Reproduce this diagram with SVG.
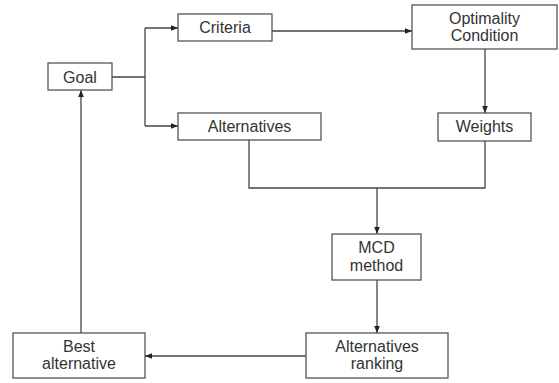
<svg xmlns="http://www.w3.org/2000/svg" width="559" height="383" viewBox="0 0 559 383">
<style>
.box{fill:#fff;stroke:#555;stroke-width:1.3}
.t{font-family:"Liberation Sans",Arial,sans-serif;font-size:16px;fill:#333;text-anchor:middle}
.c{fill:none;stroke:#444;stroke-width:1.3}
</style>
<defs>
<marker id="a" viewBox="0 0 10 10" refX="10" refY="5" markerWidth="7" markerHeight="7" markerUnits="userSpaceOnUse" orient="auto">
<path d="M0,1 L10,5 L0,9 z" fill="#222"/>
</marker>
</defs>
<rect width="559" height="383" fill="#fff"/>
<g id="connectors">
<path class="c" d="M112,77 H145 M145,28 V126"/>
<path class="c" d="M145,28 H178" marker-end="url(#a)"/>
<path class="c" d="M145,126 H178" marker-end="url(#a)"/>
<path class="c" d="M272,31 H412" marker-end="url(#a)"/>
<path class="c" d="M485,49 V113" marker-end="url(#a)"/>
<path class="c" d="M249,140 V188 H485 V141"/>
<path class="c" d="M377,188 V234" marker-end="url(#a)"/>
<path class="c" d="M377,280 V333" marker-end="url(#a)"/>
<path class="c" d="M306,356 H145" marker-end="url(#a)"/>
<path class="c" d="M81,333 V90" marker-end="url(#a)"/>
</g>
<g id="goal"><rect class="box" x="48" y="63" width="64" height="27"/><text class="t" x="80" y="83">Goal</text></g>
<g id="criteria"><rect class="box" x="178" y="14" width="94" height="27"/><text class="t" x="225" y="33">Criteria</text></g>
<g id="alternatives"><rect class="box" x="178" y="113" width="143" height="27"/><text class="t" x="249.5" y="132">Alternatives</text></g>
<g id="optimality"><rect class="box" x="412" y="5" width="145" height="44"/><text class="t" x="484.5" y="24">Optimality</text><text class="t" x="484.5" y="41">Condition</text></g>
<g id="weights"><rect class="box" x="438" y="113" width="93" height="28"/><text class="t" x="484.5" y="132">Weights</text></g>
<g id="mcd"><rect class="box" x="332" y="234" width="89" height="46"/><text class="t" x="376.5" y="253">MCD</text><text class="t" x="376.5" y="271">method</text></g>
<g id="ranking"><rect class="box" x="306" y="333" width="142" height="45"/><text class="t" x="377" y="352">Alternatives</text><text class="t" x="377" y="369">ranking</text></g>
<g id="best"><rect class="box" x="13" y="333" width="132" height="45"/><text class="t" x="79" y="352">Best</text><text class="t" x="79" y="369">alternative</text></g>
</svg>
